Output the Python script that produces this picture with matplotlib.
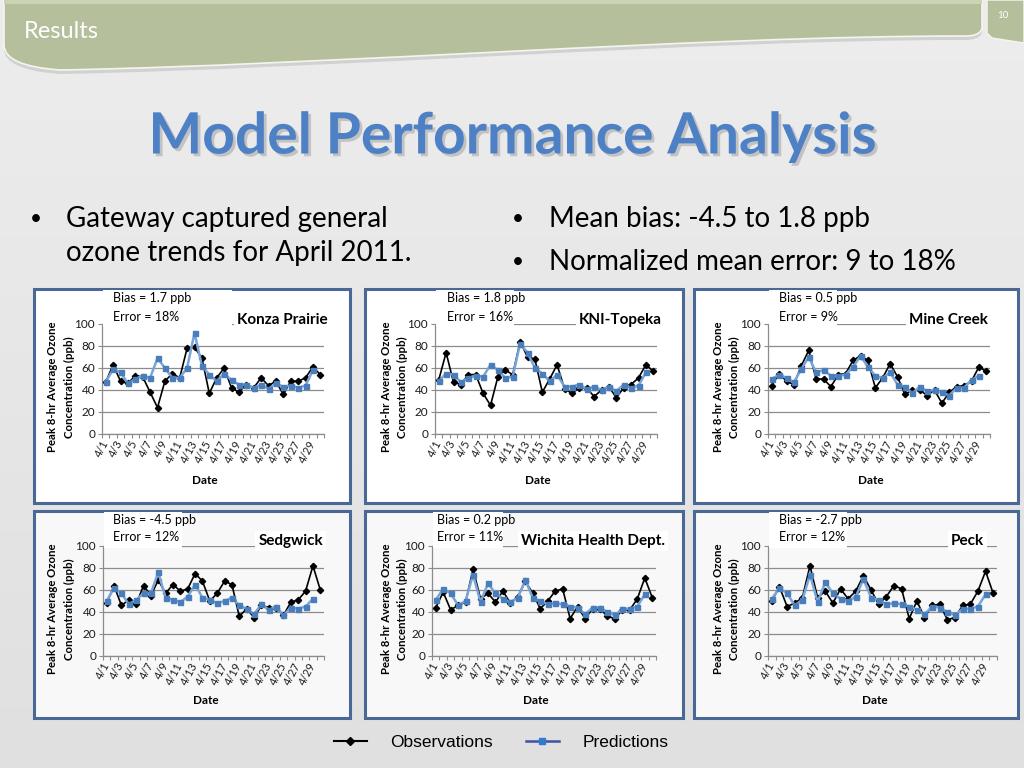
import matplotlib
matplotlib.use('Agg')
import matplotlib.pyplot as plt
import matplotlib.patheffects as pe
import numpy as np
from matplotlib.patches import Rectangle, PathPatch, Polygon
from matplotlib.path import Path
from matplotlib.lines import Line2D
from matplotlib.colors import LinearSegmentedColormap

# ---------------- data ----------------
dates = ['4/1', '4/2', '4/3', '4/4', '4/5', '4/6', '4/7', '4/8', '4/9', '4/10',
         '4/11', '4/12', '4/13', '4/14', '4/15', '4/16', '4/17', '4/18', '4/19', '4/20',
         '4/21', '4/22', '4/23', '4/24', '4/25', '4/26', '4/27', '4/28', '4/29', '4/30']

station_names = ['Konza Prairie', 'KNI-Topeka', 'Mine Creek',
                 'Sedgwick', 'Wichita Health Dept.', 'Peck']
bias_labels = ['Bias = 1.7 ppb', 'Bias = 1.8 ppb', 'Bias = 0.5 ppb',
               'Bias = -4.5 ppb', 'Bias = 0.2 ppb', 'Bias = -2.7 ppb']
error_labels = ['Error = 18%', 'Error = 16%', 'Error = 9%',
                'Error = 12%', 'Error = 11%', 'Error = 12%']

konza_obs = [47, 63, 48, 46, 53, 52, 38, 24, 48, 55, 51, 78, 79, 69, 37,
             51, 60, 42, 38, 45, 42, 51, 44, 48, 36, 48, 48, 51, 61, 54]
konza_pred = [47, 59, 56, 46, 50, 53, 51, 69, 60, 51, 51, 60, 92, 62, 54,
              48, 55, 49, 45, 45, 42, 45, 41, 46, 43, 44, 42, 44, 58]

topeka_obs = [49, 74, 47, 45, 54, 54, 37, 26, 52, 58, 54, 84, 70, 68, 38,
              50, 63, 41, 37, 42, 42, 34, 40, 43, 33, 42, 45, 51, 63, 57]
topeka_pred = [48, 55, 54, 47, 51, 53, 52, 63, 58, 51, 52, 82, 74, 60, 55,
               48, 54, 43, 43, 45, 41, 43, 40, 43, 39, 45, 42, 44, 56]

mine_obs = [44, 55, 48, 45, 62, 76, 50, 50, 43, 54, 55, 67, 71, 67, 42,
            51, 64, 52, 36, 40, 40, 35, 40, 28, 38, 43, 44, 48, 61, 57]
mine_pred = [50, 54, 51, 47, 59, 70, 56, 58, 53, 53, 54, 61, 71, 61, 53,
             51, 56, 45, 43, 37, 43, 39, 40, 38, 35, 42, 42, 49, 53]

sedgwick_obs = [48, 64, 46, 51, 47, 64, 55, 69, 57, 65, 59, 61, 75, 68, 50,
                57, 68, 65, 36, 43, 35, 46, 44, 44, 37, 49, 51, 59, 82, 60]
sedgwick_pred = [50, 62, 57, 47, 51, 57, 57, 76, 53, 51, 49, 54, 65, 53, 51,
                 48, 50, 53, 46, 43, 38, 47, 42, 45, 37, 44, 43, 45, 52]

wichita_obs = [44, 58, 42, 46, 49, 79, 52, 57, 49, 59, 48, 54, 68, 57, 43,
               50, 59, 61, 34, 45, 34, 43, 43, 36, 34, 42, 42, 52, 71, 53]
wichita_pred = [51, 61, 57, 46, 50, 74, 49, 66, 57, 52, 49, 53, 69, 53, 50,
                47, 48, 47, 45, 44, 38, 44, 44, 40, 37, 43, 43, 45, 56]

peck_obs = [50, 63, 45, 48, 53, 82, 53, 59, 48, 61, 52, 59, 73, 60, 47,
            54, 64, 61, 34, 50, 35, 46, 47, 33, 35, 46, 47, 59, 77, 57]
peck_pred = [52, 62, 57, 46, 51, 74, 49, 67, 57, 52, 50, 54, 70, 53, 51,
             47, 48, 47, 45, 42, 38, 45, 44, 40, 37, 43, 43, 45, 56]

obs_series = [konza_obs, topeka_obs, mine_obs, sedgwick_obs, wichita_obs, peck_obs]
pred_series = [konza_pred, topeka_pred, mine_pred, sedgwick_pred, wichita_pred, peck_pred]

y_ticks = [0, 20, 40, 60, 80, 100]

# ---------------- layout (pixels) ----------------
W, H = 1024, 768
FONT = ['Lato', 'DejaVu Sans']
plt.rcParams['font.family'] = FONT

fig = plt.figure(figsize=(W / 100, H / 100), dpi=100)

def fx(x):
    return x / W

def fy(y):
    return 1 - y / H

# background axes (pixel coordinates)
bg = fig.add_axes([0, 0, 1, 1], zorder=0)
bg.set_xlim(0, W)
bg.set_ylim(H, 0)
bg.axis('off')
grad = np.linspace(0, 1, 256).reshape(-1, 1)
cmap_bg = LinearSegmentedColormap.from_list('bgc', ['#ededed', '#e0e0e0'])
bg.imshow(grad, extent=[0, W, H, 0], cmap=cmap_bg, aspect='auto', zorder=0)

# header band
verts = [(4, 0), (982, 0), (982, 28), (980, 37), (962, 36),
         (700, 36), (330, 65), (60, 70), (4, 66), (4, 45), (4, 0)]
codes = [Path.MOVETO, Path.LINETO, Path.LINETO, Path.CURVE3, Path.CURVE3,
         Path.CURVE4, Path.CURVE4, Path.CURVE4, Path.CURVE3, Path.CURVE3, Path.CLOSEPOLY]
hp = Path(verts, codes)
shadow = Path([(x, y + 4) for x, y in verts], codes)
bg.add_patch(PathPatch(shadow, facecolor='#b8b8b8', edgecolor='none', alpha=0.5, zorder=1))
bg.add_patch(PathPatch(hp, facecolor='#b5bf9b', edgecolor='#f4f6ee', lw=1.2, zorder=2))
bg.add_patch(Rectangle((4, 0), 978, 4, facecolor='#cbd3b6', edgecolor='none', zorder=3))
bg.add_patch(Polygon([(987, 0), (1024, 0), (1024, 43), (992, 38), (987, 33)],
                     closed=True, facecolor='#b5bf9b', edgecolor='#f4f6ee', lw=1.0, zorder=2))
bg.text(24, 32, 'Results', color='white', fontsize=17, va='center', ha='left', zorder=4)
bg.text(1003, 16, '10', color='white', fontsize=7, va='center', ha='center', zorder=4)

# title with shadow (path effect)
title = 'Model Performance Analysis'
bg.text(513, 137, title, color='#4d80c4', fontsize=41, fontweight='bold',
        ha='center', va='center', zorder=5,
        path_effects=[pe.withSimplePatchShadow(offset=(2, -2), shadow_rgbFace='#a8a8a8', alpha=0.6)])

# bullets
bfs = 20
bg.text(30, 219, '•', fontsize=15, va='center', ha='left', color='black', zorder=5)
bg.text(66, 219, 'Gateway captured general', fontsize=bfs, va='center', ha='left', zorder=5)
bg.text(66, 253, 'ozone trends for April 2011.', fontsize=bfs, va='center', ha='left', zorder=5)
bg.text(512, 219, '•', fontsize=15, va='center', ha='left', zorder=5)
bg.text(549, 219, 'Mean bias: -4.5 to 1.8 ppb', fontsize=bfs, va='center', ha='left', zorder=5)
bg.text(512, 262, '•', fontsize=15, va='center', ha='left', zorder=5)
bg.text(549, 262, 'Normalized mean error: 9 to 18%', fontsize=bfs, va='center', ha='left', zorder=5)

# panel boxes
boxes = [(34, 289, 350, 503), (365, 289, 683, 503), (694, 289, 1018, 503),
         (34, 511, 350, 718), (365, 511, 683, 718), (694, 511, 1018, 718)]
for i, (x0, y0, x1, y1) in enumerate(boxes):
    fc = 'white' if i < 3 else '#f8f8f8'
    bg.add_patch(Rectangle((x0, y0), x1 - x0, y1 - y0, facecolor=fc,
                           edgecolor='#4a6896', lw=2.2, zorder=6))

# chart axes geometry: left, right, top(100), bottom(0)
axes_px = [(102, 324, 324, 434), (435, 657, 324, 434), (768, 990, 324, 434),
           (103, 324, 546, 656), (432, 656, 546, 656), (768, 997, 546, 656)]
ylab_x = [(53, 69), (386, 402), (718, 734), (53, 69), (386, 402), (718, 734)]
date_y = [480, 480, 480, 701, 701, 701]
bias_pos = [(113, 298, 317), (447, 298, 317), (779, 298, 317),
            (113, 520, 537), (437, 520, 537), (779, 520, 537)]
bias_box_right = [232, 514, 837, 182, 503, 847]
station_pos = [(328, 320), (662, 320), (988, 320), (323, 541), (665, 541), (984, 541)]

GRID = '#8c8c8c'
OBS_C = 'black'
PRED_LINE = '#77a5dc'
PRED_MARK = '#4a7ebb'

xpos = np.arange(1, len(dates) + 1)

fg = fig.add_axes([0, 0, 1, 1], zorder=20)
fg.set_xlim(0, W)
fg.set_ylim(H, 0)
fg.axis('off')
fg.patch.set_alpha(0)

for i in range(6):
    L, R, T, B = axes_px[i]
    ax = fig.add_axes([fx(L), fy(B), (R - L) / W, (B - T) / H], zorder=10)
    ax.set_facecolor('none')
    obs = obs_series[i]
    pred = pred_series[i]
    ax.plot(xpos[:len(obs)], obs, color=OBS_C, lw=1.2, marker='D', ms=3.2,
            markerfacecolor=OBS_C, markeredgecolor=OBS_C, zorder=3, clip_on=False)
    ax.plot(xpos[:len(pred)], pred, color=PRED_LINE, lw=1.8, marker='s', ms=3.6,
            markerfacecolor=PRED_MARK, markeredgecolor=PRED_MARK, zorder=4, clip_on=False)
    ax.set_xlim(0.5, len(dates) + 0.5)
    ax.set_ylim(0, 100)
    ax.set_yticks(y_ticks)
    ax.set_yticklabels([str(v) for v in y_ticks], fontsize=8.5, color='#1a1a1a')
    ax.yaxis.grid(True, color=GRID, lw=0.9)
    ax.set_axisbelow(True)
    ax.tick_params(axis='y', length=3, width=0.8, color=GRID, pad=2)
    ax.set_xticks(xpos[::2])
    ax.set_xticklabels(dates[::2], fontsize=7.8, rotation=62, ha='right',
                       va='center', rotation_mode='anchor', color='#1a1a1a')
    ax.set_xticks(np.arange(0.5, len(dates) + 1, 1.0), minor=True)
    ax.tick_params(axis='x', which='major', length=0, pad=5)
    ax.tick_params(axis='x', which='minor', length=3, width=0.8, color=GRID)
    for s in ['top', 'right']:
        ax.spines[s].set_visible(False)
    for s in ['left', 'bottom']:
        ax.spines[s].set_color(GRID)
        ax.spines[s].set_linewidth(0.9)

    # y label (two lines) and x label
    cy = (T + B) / 2 + 8
    fg.text(ylab_x[i][0], cy, 'Peak 8-hr Average Ozone', rotation=90, fontsize=8.2,
            fontweight='bold', ha='center', va='center')
    fg.text(ylab_x[i][1], cy, 'Concentration (ppb)', rotation=90, fontsize=8.2,
            fontweight='bold', ha='center', va='center')
    fg.text((L + R) / 2 - 8, date_y[i], 'Date', fontsize=8.5, fontweight='bold',
            ha='center', va='center')

    # bias / error text box (white fill hides the 100 gridline)
    bx, by1, by2 = bias_pos[i]
    fg.add_patch(Rectangle((L + 1, by1 - 8), bias_box_right[i] - L - 1, T + 2 - (by1 - 8),
                           facecolor='white', edgecolor='none', zorder=1))
    fg.text(bx, by1, bias_labels[i], fontsize=9, ha='left', va='center', zorder=2)
    fg.text(bx, by2, error_labels[i], fontsize=9, ha='left', va='center', zorder=2)

    # station name
    sx, sy = station_pos[i]
    fg.text(sx, sy, station_names[i], fontsize=11, fontweight='bold', ha='right',
            va='center', zorder=2,
            bbox=dict(boxstyle='square,pad=0.2', facecolor='white', edgecolor='none'))

# legend
handles = [Line2D([], [], color='black', lw=1.5, marker='D', ms=4.5,
                  markerfacecolor='black', markeredgecolor='black', label='Observations'),
           Line2D([], [], color='#3e52a3', lw=1.8, marker='s', ms=4.5,
                  markerfacecolor='#2f7bd1', markeredgecolor='#2f7bd1', label='Predictions')]
fig.legend(handles=handles, loc='center', bbox_to_anchor=(fx(501), fy(742)), ncol=2,
           frameon=False, prop={'family': ['Liberation Sans', 'DejaVu Sans'], 'size': 12.5},
           handlelength=1.9, handletextpad=1.35, columnspacing=1.9)

fig.savefig('out.png', dpi=100)
